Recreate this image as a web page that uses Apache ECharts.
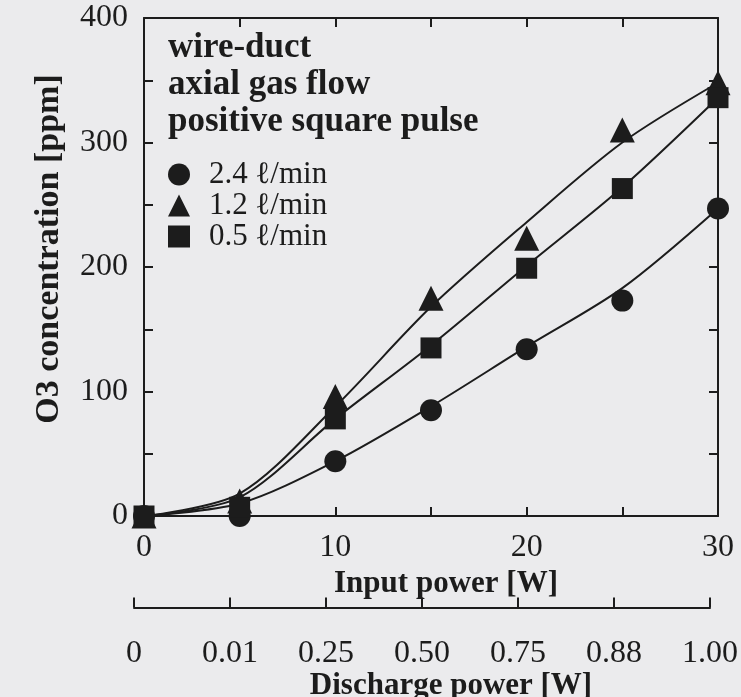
<!DOCTYPE html>
<html>
<head>
<meta charset="utf-8">
<script src="https://cdn.jsdelivr.net/npm/echarts@6/dist/echarts.min.js"></script>
<style>
  html, body { margin: 0; padding: 0; background: #ebebed; }
  #chart { width: 741px; height: 697px; }
</style>
</head>
<body>
<div id="chart"></div>
<script>
// input power [W] and the discharge power shown under it
const inputPower = [0, 5, 10, 15, 20, 25, 30]
const dischargeLabels = ['0', '0.01', '0.25', '0.50', '0.75', '0.88', '1.00']

// measured O3 concentration [ppm] per gas flow rate
const o3Flow24 = [0, 0, 44, 85, 134, 173, 247]
const o3Flow12 = [0, 12, 96, 175, 223, 310, 348]
const o3Flow05 = [0, 7, 78, 135, 199, 263, 336]

const curveFlow24 = [0, 10, 44, 88, 136, 183, 247]
const curveFlow12 = [0, 18, 88, 168, 236, 300, 348]
const curveFlow05 = [0, 15, 78, 137, 201, 264, 336]

const seriesNames = ['2.4 ℓ/min', '1.2 ℓ/min', '0.5 ℓ/min']
const seriesSymbols = ['circle', 'triangle', 'rect']
const seriesSizes = [22, 25, 21]
const pointValues = [o3Flow24, o3Flow12, o3Flow05]
const curveValues = [curveFlow24, curveFlow12, curveFlow05]

const ink = '#1c1c1c'
const serif = '"Liberation Serif", "DejaVu Serif", serif'

let chart = echarts.init(document.getElementById('chart'))

let lineAxis = { onZero: false, lineStyle: { color: ink, width: 2 } }
let tickIn = { inside: true, length: 9, lineStyle: { color: ink, width: 2 } }

let series = []
curveValues.forEach((vals, i) => {
  series.push({
    name: 'curve ' + seriesNames[i],
    type: 'line',
    data: inputPower.map((x, k) => [x, vals[k]]),
    smooth: 0.3,
    symbol: 'none',
    clip: false,
    lineStyle: { color: ink, width: 2 },
    z: 2
  })
})
pointValues.forEach((vals, i) => {
  series.push({
    name: seriesNames[i],
    type: 'scatter',
    data: inputPower.map((x, k) => [x, vals[k]]),
    symbol: seriesSymbols[i],
    symbolSize: seriesSizes[i],
    clip: false,
    itemStyle: { color: ink, opacity: 1 },
    z: 3 + i
  })
})

let option = {
  backgroundColor: '#ebebed',
  animation: false,
  title: {
    text: 'wire-duct\naxial gas flow\npositive square pulse',
    left: 163,
    top: 24,
    textStyle: { fontFamily: serif, fontWeight: 'bold', fontSize: 35, lineHeight: 37, color: ink }
  },
  legend: {
    orient: 'vertical',
    left: 163,
    top: 154,
    itemWidth: 22,
    itemHeight: 22,
    itemGap: 0,
    textStyle: { fontFamily: serif, fontSize: 31, lineHeight: 29, color: ink, padding: [0, 0, 0, 14] },
    data: seriesNames.map((n, i) => ({ name: n, icon: seriesSymbols[i] }))
  },
  grid: [
    { left: 144, right: 23, top: 18, bottom: 181 },
    { left: 134, right: 29, top: 605, height: 10 }
  ],
  xAxis: [
    {
      gridIndex: 0,
      type: 'value',
      min: 0,
      max: 30,
      interval: 5,
      position: 'bottom',
      axisLine: lineAxis,
      axisTick: tickIn,
      splitLine: { show: false },
      axisLabel: {
        formatter: v => (v % 10 === 0 ? String(v) : ''),
        fontFamily: serif, fontSize: 32, color: ink, margin: 16
      },
      name: 'Input power [W]',
      nameLocation: 'middle',
      nameGap: 48,
      nameTextStyle: { fontFamily: serif, fontWeight: 'bold', fontSize: 31, color: ink, padding: [0, 0, 0, 30] }
    },
    {
      gridIndex: 0,
      type: 'value',
      min: 0,
      max: 30,
      interval: 5,
      position: 'top',
      axisLine: lineAxis,
      axisTick: tickIn,
      splitLine: { show: false },
      axisLabel: { show: false }
    },
    {
      gridIndex: 1,
      type: 'value',
      min: 0,
      max: 6,
      interval: 1,
      position: 'bottom',
      axisLine: lineAxis,
      axisTick: { inside: true, length: 10, lineStyle: { color: ink, width: 2 } },
      splitLine: { show: false },
      axisLabel: {
        formatter: v => dischargeLabels[v],
        fontFamily: serif, fontSize: 32, color: ink, margin: 30
      },
      name: 'Discharge power [W]',
      nameLocation: 'middle',
      nameGap: 56,
      nameTextStyle: { fontFamily: serif, fontWeight: 'bold', fontSize: 31, color: ink, padding: [0, 0, 0, 58] }
    }
  ],
  yAxis: [
    {
      gridIndex: 0,
      type: 'value',
      min: 0,
      max: 400,
      interval: 50,
      position: 'left',
      axisLine: lineAxis,
      axisTick: tickIn,
      splitLine: { show: false },
      axisLabel: {
        formatter: v => (v % 100 === 0 ? String(v) : ''),
        fontFamily: serif, fontSize: 32, color: ink, margin: 16
      },
      name: 'O3 concentration [ppm]',
      nameLocation: 'middle',
      nameRotate: 90,
      nameGap: 78,
      nameTextStyle: { fontFamily: serif, fontWeight: 'bold', fontSize: 34, color: ink, padding: [0, 0, 0, 36] }
    },
    {
      gridIndex: 0,
      type: 'value',
      min: 0,
      max: 400,
      interval: 50,
      position: 'right',
      axisLine: lineAxis,
      axisTick: tickIn,
      splitLine: { show: false },
      axisLabel: { show: false }
    },
    {
      gridIndex: 1,
      type: 'value',
      show: false
    }
  ],
  series: series
}

chart.setOption(option)
</script>
</body>
</html>
